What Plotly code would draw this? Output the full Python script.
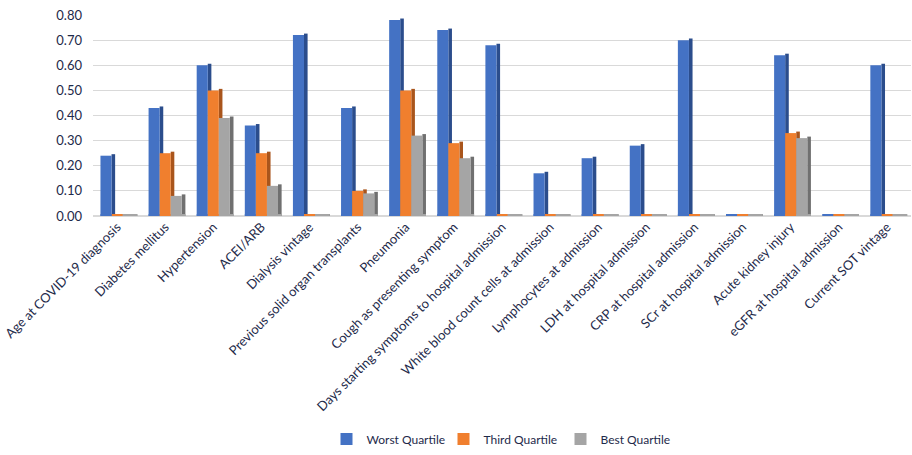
import plotly.graph_objects as go

categories = [
    "Age at COVID-19 diagnosis", "Diabetes mellitus", "Hypertension", "ACEI/ARB",
    "Dialysis vintage", "Previous solid organ transplants", "Pneumonia",
    "Cough as presenting symptom", "Days starting symptoms to hospital admission",
    "White blood count cells at admission", "Lymphocytes at admission",
    "LDH at hospital admission", "CRP at hospital admission", "SCr at hospital admission",
    "Acute kidney injury", "eGFR at hospital admission", "Current SOT vintage",
]
worst = [0.24, 0.43, 0.60, 0.36, 0.72, 0.43, 0.78, 0.74, 0.68, 0.17, 0.23, 0.28, 0.70, 0.00, 0.64, 0.00, 0.60]
third = [0.00, 0.25, 0.50, 0.25, 0.00, 0.10, 0.50, 0.29, 0.00, 0.00, 0.00, 0.00, 0.00, 0.00, 0.33, 0.00, 0.00]
best = [0.00, 0.08, 0.39, 0.12, 0.00, 0.09, 0.32, 0.23, 0.00, 0.00, 0.00, 0.00, 0.00, 0.00, 0.31, 0.00, 0.00]
y_ticks = [0.0, 0.1, 0.2, 0.3, 0.4, 0.5, 0.6, 0.7, 0.8]

series = [
    ("Worst Quartile", worst, "#4472C4", "#2B4D8C"),
    ("Third Quartile", third, "#F07F2E", "#A9551C"),
    ("Best Quartile", best, "#A5A5A5", "#707070"),
]
idx = list(range(len(categories)))
front_w = 0.23
side_w = 0.075
offsets = [-0.345, -0.115, 0.115]
slab = 0.006

fig = go.Figure()
# side faces (drawn first)
for (name, vals, col, dark), off in zip(series, offsets):
    fig.add_trace(go.Bar(
        x=idx, y=[v + slab for v in vals], width=side_w, offset=off + front_w,
        marker=dict(color=dark, line=dict(width=0)), showlegend=False, hoverinfo="skip"))
# floor slabs
for (name, vals, col, dark), off in zip(series, offsets):
    fig.add_trace(go.Bar(
        x=idx, y=[slab] * len(idx), width=front_w + side_w, offset=off,
        marker=dict(color=col, line=dict(width=0)), showlegend=False, hoverinfo="skip"))
# front faces
for (name, vals, col, dark), off in zip(series, offsets):
    fig.add_trace(go.Bar(
        x=idx, y=vals, width=front_w, offset=off, name=name,
        marker=dict(color=col, line=dict(width=0))))

font_col = "#1E2A4A"
fig.update_layout(
    width=912, height=455,
    barmode="overlay",
    paper_bgcolor="white", plot_bgcolor="white",
    margin=dict(l=93, r=1, t=15, b=237),
    font=dict(family="Lato, 'Open Sans', sans-serif", size=13, color=font_col),
    xaxis=dict(
        tickmode="array", tickvals=idx, ticktext=categories, tickangle=-45,
        range=[-0.5, len(categories) - 0.5], showgrid=False, zeroline=False,
        showline=False, ticks="", tickfont=dict(size=13, color=font_col),
    ),
    yaxis=dict(
        range=[0, 0.8], tickvals=y_ticks, tickformat=".2f", showgrid=True,
        gridcolor="#D9D9D9", gridwidth=1, zeroline=True, zerolinecolor="#D9D9D9",
        showline=False, ticks="", ticklabelstandoff=10,
        tickfont=dict(size=13, color=font_col),
    ),
    legend=dict(
        orientation="h", x=0.5, xanchor="center", y=-1.11, yanchor="middle",
        font=dict(size=12, color=font_col), itemwidth=30, traceorder="normal",
        entrywidth=72, entrywidthmode="pixels",
    ),
)
fig.write_html("out.html")
